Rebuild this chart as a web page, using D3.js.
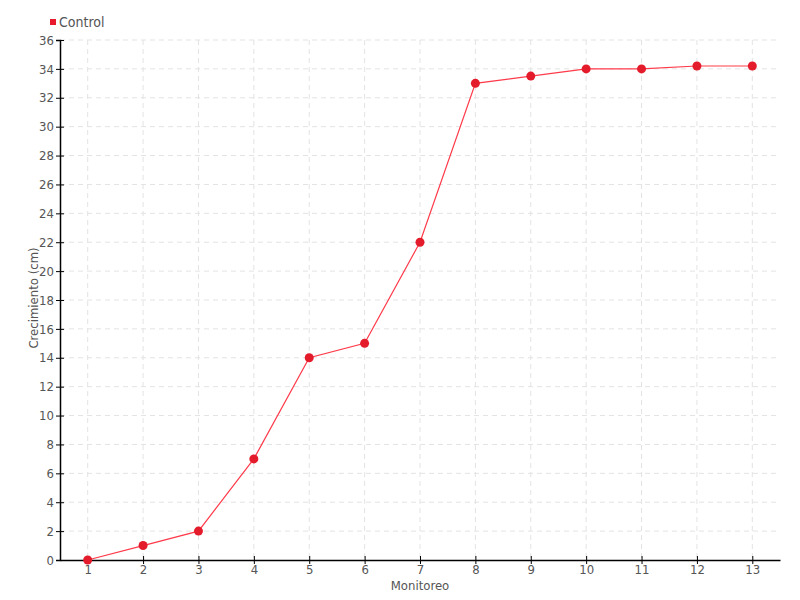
<!DOCTYPE html>
<html><head><meta charset="utf-8">
<script src="https://cdn.jsdelivr.net/npm/d3@7"></script>
<style>
body{margin:0;background:#fff;}
text{font-family:"DejaVu Sans Condensed","DejaVu Sans",sans-serif;font-stretch:condensed;fill:#555;}
</style></head><body>
<svg id="c" width="800" height="600"></svg>
<script>
const categories = ["1","2","3","4","5","6","7","8","9","10","11","12","13"];
const values = [0,1,2,7,14,15,22,33,33.5,34,34,34.2,34.2];
const yTicks = [0,2,4,6,8,10,12,14,16,18,20,22,24,26,28,30,32,34,36];
const seriesName = "Control";

const svg = d3.select("#c");
const m = {l:60, r:780, t:40, b:560};
const x = d3.scalePoint().domain(categories).range([m.l, m.r]).padding(0.5);
const y = d3.scaleLinear().domain([0,36]).range([m.b, m.t]);

// grid
svg.append("g").selectAll("line").data(yTicks.slice(1)).join("line")
  .attr("x1", m.l).attr("x2", m.r).attr("y1", d=>y(d)).attr("y2", d=>y(d))
  .attr("stroke","#e3e3e3").attr("stroke-dasharray","5,4");
svg.append("g").selectAll("line").data(categories).join("line")
  .attr("x1", d=>x(d)).attr("x2", d=>x(d)).attr("y1", m.t).attr("y2", m.b)
  .attr("stroke","#e3e3e3").attr("stroke-dasharray","5,4");

// axes
const ya = svg.append("g").attr("transform",`translate(${m.l},0)`)
  .call(d3.axisLeft(y).tickValues(yTicks).tickSize(4).tickPadding(2));
ya.select(".domain").attr("stroke","#000").attr("stroke-width",1.5);
ya.selectAll(".tick line").attr("stroke","#000").attr("x2",4).attr("x1",-4);
ya.selectAll("text").style("font-size","13px").attr("fill","#555");

const xa = svg.append("g").attr("transform",`translate(0,${m.b})`)
  .call(d3.axisBottom(x).tickSize(4).tickPadding(1).tickSizeOuter(0));
xa.select(".domain").attr("stroke","#000").attr("stroke-width",1.5);
xa.selectAll(".tick line").attr("stroke","#000").attr("y1",-4).attr("y2",4);
xa.selectAll("text").style("font-size","13px").attr("fill","#555");

// titles
svg.append("text").attr("x",420).attr("y",590).attr("text-anchor","middle")
  .style("font-size","13px").text("Monitoreo");
svg.append("text").attr("transform","translate(38,298) rotate(-90)").attr("text-anchor","middle")
  .style("font-size","13px").text("Crecimiento (cm)");

// line
const line = d3.line().x((d,i)=>x(categories[i])).y(d=>y(d));
svg.append("path").datum(values).attr("d",line).attr("fill","none")
  .attr("stroke","#ff3a4a").attr("stroke-width",1.2);
svg.append("g").selectAll("circle").data(values).join("circle")
  .attr("cx",(d,i)=>x(categories[i])).attr("cy",d=>y(d)).attr("r",4.5)
  .attr("fill","#e31b2b");

// legend
svg.append("rect").attr("x",50).attr("y",19).attr("width",6).attr("height",6).attr("fill","#e8192c");
svg.append("text").attr("x",59).attr("y",27).style("font-size","14px").text(seriesName);
</script></body></html>
